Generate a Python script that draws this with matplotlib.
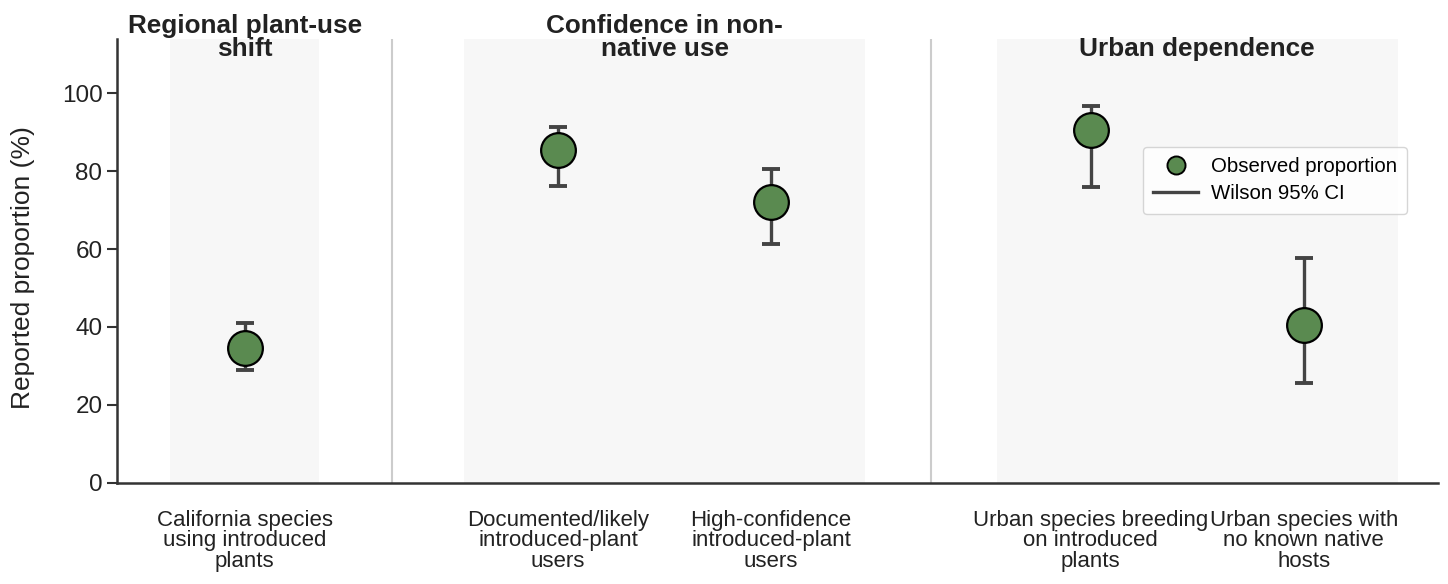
import matplotlib
matplotlib.use("Agg")
import matplotlib.pyplot as plt
from matplotlib.lines import Line2D

plt.rcParams['font.family'] = ['Liberation Sans', 'DejaVu Sans']

# ---- data ----
categories = [
    "California species\nusing introduced\nplants",
    "Documented/likely\nintroduced-plant\nusers",
    "High-confidence\nintroduced-plant\nusers",
    "Urban species breeding\non introduced\nplants",
    "Urban species with\nno known native\nhosts",
]
proportion = [34.7, 85.4, 72.0, 90.7, 40.6]
ci_low = [28.8, 76.1, 61.4, 75.9, 25.5]
ci_high = [41.0, 91.5, 80.5, 96.8, 57.7]
group_titles = ["Regional plant-use\nshift", "Confidence in non-\nnative use", "Urban dependence"]
group_members = [[0], [1, 2], [3, 4]]

# ---- layout ----
xpos = [0, 1.47, 2.47, 3.97, 4.97]
single_pad = 0.35
multi_pad = 0.44

fig = plt.figure(figsize=(14.48, 5.84), dpi=100)
ax = fig.add_axes([0.0808, 0.1738, 0.9123, 0.7594])

spans = []
for members in group_members:
    pad = single_pad if len(members) == 1 else multi_pad
    lo = xpos[members[0]] - pad
    hi = xpos[members[-1]] + pad
    spans.append((lo, hi))
    ax.axvspan(lo, hi, color='#f7f7f7', zorder=0, lw=0)

for (a, b), (c, d) in zip(spans[:-1], spans[1:]):
    ax.axvline((b + c) / 2, color='#cccccc', lw=1.5, zorder=1)

yerr = [[p - l for p, l in zip(proportion, ci_low)],
        [h - p for p, h in zip(proportion, ci_high)]]
ax.errorbar(xpos, proportion, yerr=yerr, fmt='none', ecolor='#444444',
            elinewidth=2.4, capsize=6.5, capthick=2.8, zorder=2)
ax.plot(xpos, proportion, 'o', ms=25, mfc='#5a8a50', mec='black', mew=1.6,
        ls='none', zorder=3)

ax.set_xlim(-0.6, 5.6)
ax.set_ylim(0, 114)
ax.set_yticks([0, 20, 40, 60, 80, 100])
ax.set_xticks(xpos)
ax.set_xticklabels(categories, fontsize=16, linespacing=0.95, color='#222222')
ax.tick_params(axis='x', length=0, pad=20)
ax.tick_params(axis='y', labelsize=17.5, length=7, width=1.5, color='#333333', labelcolor='#222222')
ax.set_ylabel("Reported proportion (%)", fontsize=19, color='#222222')
ax.yaxis.set_label_coords(-0.062, 0.484)

for s in ['top', 'right']:
    ax.spines[s].set_visible(False)
for s in ['left', 'bottom']:
    ax.spines[s].set_color('#333333')
    ax.spines[s].set_linewidth(1.8)

for members, title in zip(group_members, group_titles):
    cx = (xpos[members[0]] + xpos[members[-1]]) / 2
    ax.text(cx, 0.951, title, transform=ax.get_xaxis_transform(), ha='center', va='bottom',
            fontsize=18.8, fontweight='bold', color='#222222', linespacing=0.92)

handles = [
    Line2D([], [], marker='o', ls='none', ms=13, mfc='#5a8a50', mec='black', mew=1.4,
           label='Observed proportion'),
    Line2D([], [], color='#444444', lw=2.4, label='Wilson 95% CI'),
]
leg = ax.legend(handles=handles, loc='upper right', bbox_to_anchor=(0.9765, 0.7565),
                borderaxespad=0, fontsize=14.7, frameon=True, handlelength=2.2, borderpad=0.5,
                labelspacing=0.4, handletextpad=0.6)
leg.get_frame().set_edgecolor('#cccccc')
leg.get_frame().set_linewidth(1.0)

fig.savefig("out.png", dpi=100)
